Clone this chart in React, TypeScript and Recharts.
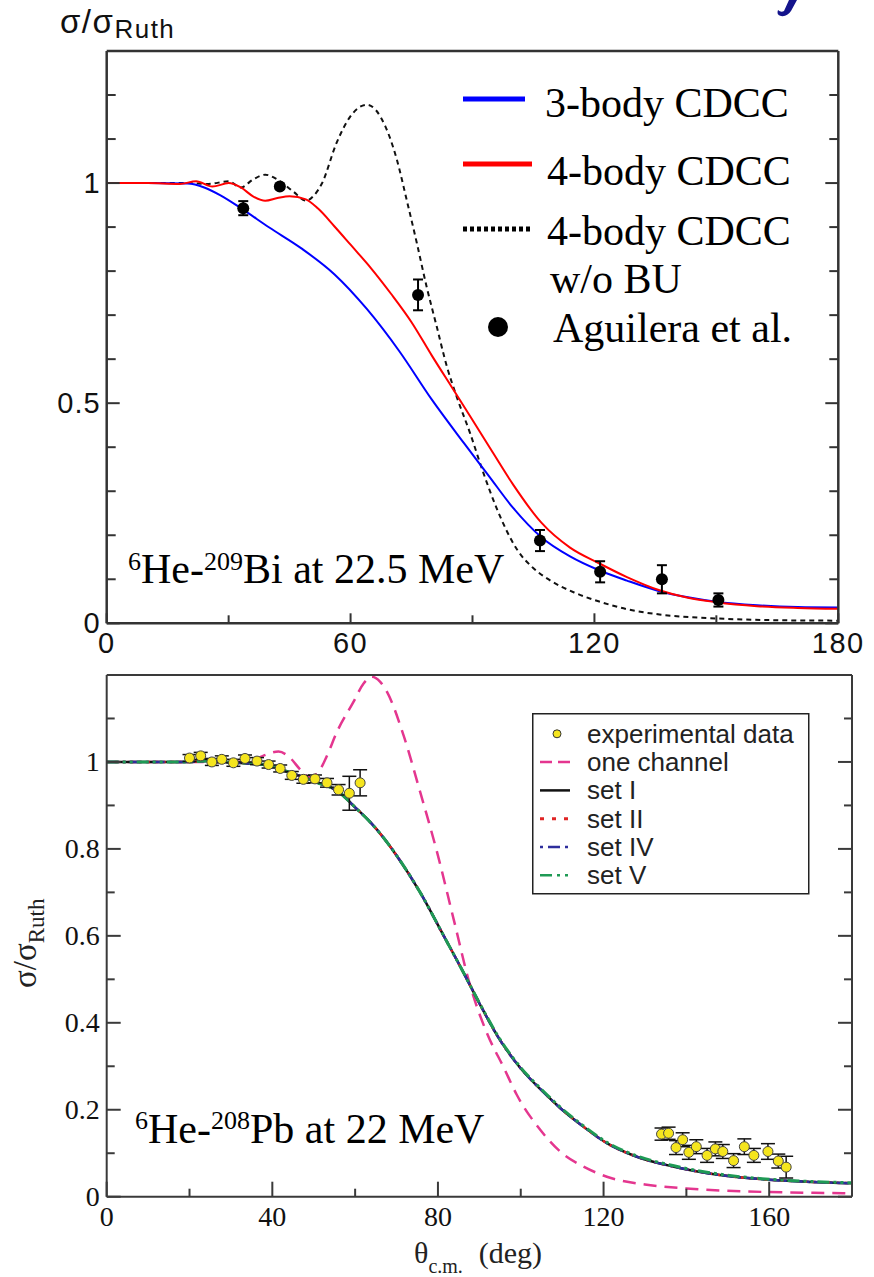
import React from 'react';
import { ComposedChart, Line, Scatter, XAxis, YAxis, ErrorBar, Legend } from 'recharts';

// ---------------- Panel 1: 6He-209Bi at 22.5 MeV ----------------
const threeBodyCDCC: [number, number][] = [
  [0, 1], [10, 1], [20, 0.999], [24, 0.99], [28, 0.972], [33, 0.943], [40, 0.899], [48, 0.851],
  [56, 0.793], [64, 0.714], [72, 0.618], [80, 0.508], [88, 0.408], [94, 0.335], [100, 0.262],
  [107, 0.195], [114, 0.152], [121, 0.121], [128, 0.097], [136, 0.073], [143, 0.059], [150, 0.049],
  [160, 0.041], [170, 0.037], [180, 0.036],
];
const fourBodyCDCC: [number, number][] = [
  [0, 1], [10, 1], [18, 0.998], [22, 1.004], [26, 0.992], [30, 1.0], [33, 0.99], [36, 0.97],
  [39, 0.96], [42, 0.966], [45, 0.97], [49, 0.963], [52, 0.942], [56, 0.902], [60, 0.86], [65, 0.807],
  [70, 0.748], [75, 0.684], [80, 0.608], [85, 0.535], [90, 0.462], [95, 0.388], [100, 0.315],
  [107, 0.228], [114, 0.172], [121, 0.137], [128, 0.105], [136, 0.075], [143, 0.058], [150, 0.048],
  [160, 0.039], [170, 0.035], [180, 0.033],
];
const fourBodyNoBU: [number, number][] = [
  [0, 1], [10, 1], [20, 1.0], [25, 0.998], [30, 1.004], [33, 0.99], [36, 1.008], [39, 1.019],
  [42, 1.008], [46, 0.98], [49, 0.96], [51, 0.972], [53, 1.0], [56.5, 1.09], [60, 1.152],
  [64, 1.178], [68.5, 1.13], [71.4, 1.053], [73.8, 0.962], [76.3, 0.864], [78.7, 0.765],
  [81.2, 0.674], [83.7, 0.583], [86.1, 0.515], [89.4, 0.432], [92.7, 0.341], [96, 0.26],
  [101, 0.167], [105, 0.125], [109, 0.098], [115, 0.07], [121, 0.05], [128, 0.032], [136, 0.02],
  [150, 0.011], [165, 0.007], [180, 0.006],
];
const aguileraTheta = [33.6, 42.6, 76.6, 106.6, 121.4, 136.6, 150.5];
const aguileraRatio = [0.943, 0.992, 0.746, 0.188, 0.117, 0.1, 0.053];
const aguileraError = [0.016, 0.005, 0.035, 0.024, 0.024, 0.032, 0.015];

const topXTicks = [0, 30, 60, 90, 120, 150, 180];
const topXMajor = [0, 60, 120, 180];
const topYTicks = [0, 0.1, 0.2, 0.3, 0.4, 0.5, 0.6, 0.7, 0.8, 0.9, 1, 1.1, 1.2];
const topYMajor = [0, 0.5, 1];

const topLegendLabels = ['3-body CDCC', '4-body CDCC', '4-body CDCC', 'w/o BU', 'Aguilera et al.'];

// ---------------- Panel 2: 6He-208Pb at 22 MeV ----------------
const oneChannel: [number, number][] = [
  [0, 1], [20, 1.0], [30, 1.0], [35, 1.003], [38, 1.015], [41.5, 1.024], [44, 1.012], [47, 0.98],
  [49, 0.965], [51, 0.975], [53, 1.01], [55.6, 1.069], [59.6, 1.138], [62, 1.18], [64, 1.196],
  [66, 1.185], [67.7, 1.161], [71.7, 1.061], [75.7, 0.931], [79.8, 0.792], [83.8, 0.638],
  [87.8, 0.485], [91.8, 0.377], [96, 0.295], [99, 0.235], [104.7, 0.154], [110, 0.1], [115, 0.07],
  [120.8, 0.046], [130, 0.028], [140, 0.019], [155, 0.012], [180, 0.008],
];
const setI: [number, number][] = [
  [0, 1], [10, 1], [20, 1.0], [25, 1.003], [30, 0.999], [35, 0.996], [39.5, 0.992], [43, 0.98],
  [47.5, 0.965], [51, 0.952], [55.6, 0.934], [60.4, 0.892], [63.6, 0.862], [67, 0.824], [70, 0.785],
  [75.7, 0.7], [81.4, 0.6], [86.2, 0.515], [90, 0.445], [95, 0.36], [100, 0.295], [105, 0.245],
  [110, 0.2], [115, 0.162], [121, 0.122], [128, 0.092], [137, 0.069], [148, 0.05], [160, 0.039],
  [170, 0.034], [180, 0.031],
];
const setII: [number, number][] = setI.map(([t, s]) => [t, s]);
const setIV: [number, number][] = setI.map(([t, s]) => [t, s]);
const setV: [number, number][] = [
  [0, 1], [10, 1], [20, 1.0], [25, 1.003], [30, 0.999], [35, 0.996], [39.5, 0.992], [43, 0.98],
  [47.5, 0.965], [51, 0.952], [55.6, 0.934], [60.4, 0.892], [63.6, 0.862], [67, 0.824], [70, 0.785],
  [75.7, 0.7], [81.4, 0.6], [86.2, 0.515], [90, 0.446], [95, 0.362], [100, 0.297], [105, 0.247],
  [110, 0.202], [115, 0.164], [121, 0.124], [128, 0.094], [137, 0.071], [148, 0.052], [160, 0.04],
  [170, 0.035], [180, 0.032],
];
const expTheta = [
  20, 22.7, 25.4, 27.8, 30.6, 33.4, 36.3, 39.1, 41.9, 44.7, 47.5, 50.3, 53.2, 56, 58.6, 61.2,
  134, 135.7, 137.5, 139.1, 140.6, 142.4, 145, 147, 148.8, 151.4, 154, 156.3, 159.7, 162.2, 164.1,
];
const expRatio = [
  1.009, 1.014, 1.0, 1.006, 0.998, 1.008, 1.002, 0.994, 0.985, 0.969, 0.96, 0.961, 0.952, 0.936, 0.928, 0.952,
  0.144, 0.146, 0.113, 0.131, 0.102, 0.115, 0.095, 0.11, 0.104, 0.083, 0.115, 0.095, 0.104, 0.082, 0.068,
];
const expError = [
  0.008, 0.008, 0.008, 0.008, 0.008, 0.008, 0.008, 0.008, 0.008, 0.009, 0.009, 0.009, 0.01, 0.012, 0.039, 0.03,
  0.014, 0.014, 0.016, 0.016, 0.016, 0.016, 0.016, 0.016, 0.016, 0.016, 0.018, 0.016, 0.018, 0.016, 0.025,
];

const botXTicks = [0, 20, 40, 60, 80, 100, 120, 140, 160];
const botXMajor = [0, 40, 80, 120, 160];
const botYTicks = [0, 0.1, 0.2, 0.3, 0.4, 0.5, 0.6, 0.7, 0.8, 0.9, 1, 1.1];
const botYMajor = [0, 0.2, 0.4, 0.6, 0.8, 1];

const botLegendLabels = ['experimental data', 'one channel', 'set I', 'set II', 'set IV', 'set V'];

// ---------------- helpers ----------------
const toPts = (arr: [number, number][]) => arr.map(([x, y]) => ({ x, y }));
const toErrPts = (xs: number[], ys: number[], es: number[]) => xs.map((x, i) => ({ x, y: ys[i], err: es[i] }));
const near = (list: number[], v: number) => list.some((m) => Math.abs(m - v) < 1e-9);

type Side = 'bottom' | 'top' | 'left' | 'right';
interface TickCfg {
  side: Side;
  major: number[];
  majorLen: number;
  minorLen: number;
  stroke: string;
  strokeWidth: number;
  label?: boolean;
  font?: string;
  fontSize?: number;
  dx?: number;
  dy?: number;
  letterSpacing?: number;
}
const makeTick = (c: TickCfg) => (props: any) => {
  const { x, y, payload } = props;
  const v = Number(payload.value);
  const isMajor = near(c.major, v);
  const len = isMajor ? c.majorLen : c.minorLen;
  let x2 = x;
  let y2 = y;
  if (c.side === 'bottom') y2 = y - len;
  else if (c.side === 'top') y2 = y + len;
  else if (c.side === 'left') x2 = x + len;
  else x2 = x - len;
  const showLabel = c.label && isMajor;
  return (
    <g>
      <line x1={x} y1={y} x2={x2} y2={y2} stroke={c.stroke} strokeWidth={c.strokeWidth} />
      {showLabel && (
        <text
          x={x + (c.dx || 0)}
          y={y + (c.dy || 0)}
          textAnchor={c.side === 'left' ? 'end' : 'middle'}
          fontFamily={c.font}
          fontSize={c.fontSize}
          letterSpacing={c.letterSpacing || 0}
          fill="#111"
        >
          {String(v)}
        </text>
      )}
    </g>
  );
};

const TOP_FRAME = '#333';
const BOT_FRAME = '#3a3a3a';
const SANS = 'Liberation Sans, Arial, sans-serif';
const SERIF = 'Liberation Serif, Times New Roman, serif';

const TopLegend = () => (
  <svg width={410} height={290} style={{ display: 'block', overflow: 'visible' }}>
    <line x1={8} y1={29} x2={70} y2={29} stroke="#0000ff" strokeWidth={5} />
    <line x1={8} y1={94} x2={77} y2={94} stroke="#ff0000" strokeWidth={5} />
    <line x1={8} y1={159} x2={77} y2={159} stroke="#000" strokeWidth={5} strokeDasharray="4 3" />
    <circle cx={43} cy={257} r={10} fill="#000" />
    <g fontFamily={SERIF} fontSize={42} fill="#000">
      <text x={90} y={47}>{topLegendLabels[0]}</text>
      <text x={92} y={115}>{topLegendLabels[1]}</text>
      <text x={92} y={175}>{topLegendLabels[2]}</text>
      <text x={95} y={223}>{topLegendLabels[3]}</text>
      <text x={98} y={272}>{topLegendLabels[4]}</text>
    </g>
  </svg>
);

const BotLegend = () => {
  const rows = botLegendLabels.map((_, i) => 20.8 + i * 28.3);
  return (
    <svg width={278} height={182} style={{ display: 'block' }}>
      <rect x={0.75} y={0.75} width={276} height={180} fill="#fff" stroke="#222" strokeWidth={1.5} />
      <circle cx={25} cy={rows[0]} r={4} fill="#f5e51e" stroke="#333" strokeWidth={1} />
      <line x1={8} y1={rows[1]} x2={38} y2={rows[1]} stroke="#e4368f" strokeWidth={2.5} strokeDasharray="12 6" />
      <line x1={8} y1={rows[2]} x2={38} y2={rows[2]} stroke="#111" strokeWidth={2.5} />
      <line x1={8} y1={rows[3]} x2={38} y2={rows[3]} stroke="#e02424" strokeWidth={3} strokeDasharray="4 8" />
      <line x1={8} y1={rows[4]} x2={38} y2={rows[4]} stroke="#2e2e9c" strokeWidth={2.5} strokeDasharray="3 5 12 5 3 10" />
      <line x1={8} y1={rows[5]} x2={38} y2={rows[5]} stroke="#1f9a55" strokeWidth={2.5} strokeDasharray="12 5 3 5 3 10" />
      <g fontFamily={SANS} fontSize={26} fill="#222">
        {botLegendLabels.map((l, i) => (
          <text key={l} x={55} y={rows[i] + 9}>{l}</text>
        ))}
      </g>
    </svg>
  );
};

const topData = {
  three: toPts(threeBodyCDCC),
  four: toPts(fourBodyCDCC),
  noBU: toPts(fourBodyNoBU),
  exp: toErrPts(aguileraTheta, aguileraRatio, aguileraError),
};
const botData = {
  one: toPts(oneChannel),
  s1: toPts(setI),
  s2: toPts(setII),
  s4: toPts(setIV),
  s5: toPts(setV),
  exp: toErrPts(expTheta, expRatio, expError),
};

// axes are given a 1px box (a 0px axis is not drawn); margins are reduced by 1px to compensate
export default function App() {
  const topAxisLine = { stroke: TOP_FRAME, strokeWidth: 2.5 };
  const botAxisLine = { stroke: BOT_FRAME, strokeWidth: 2 };
  const common = { tickLine: false as const, tickSize: 0, tickMargin: 0, interval: 0 as const, allowDataOverflow: true };
  return (
    <div style={{ position: 'absolute', left: 0, top: 0, width: 874, height: 1277, background: '#fff' }}>
      <div style={{ position: 'absolute', left: 0, top: 0 }}>
        <ComposedChart width={874} height={660} margin={{ top: 50, right: 34.7, bottom: 35.7, left: 105.7 }}>
          <XAxis
            {...common} type="number" dataKey="x" domain={[0, 180]} ticks={topXTicks} height={1} axisLine={topAxisLine}
            tick={makeTick({ side: 'bottom', major: topXMajor, majorLen: 10, minorLen: 8, stroke: TOP_FRAME, strokeWidth: 2, label: true, font: SANS, fontSize: 29, dy: 30, letterSpacing: 1.5 })}
          />
          <XAxis
            {...common} xAxisId="top" orientation="top" type="number" domain={[0, 180]} ticks={topXTicks} height={1} axisLine={topAxisLine}
            tick={makeTick({ side: 'top', major: topXMajor, majorLen: 10, minorLen: 8, stroke: TOP_FRAME, strokeWidth: 2 })}
          />
          <YAxis
            {...common} type="number" domain={[0, 1.3]} ticks={topYTicks} width={1} axisLine={topAxisLine}
            tick={makeTick({ side: 'left', major: topYMajor, majorLen: 13, minorLen: 9, stroke: TOP_FRAME, strokeWidth: 2, label: true, font: SANS, fontSize: 29, dx: -6, dy: 10, letterSpacing: 1 })}
          />
          <YAxis
            {...common} yAxisId="right" orientation="right" type="number" domain={[0, 1.3]} ticks={topYTicks} width={1} axisLine={topAxisLine}
            tick={makeTick({ side: 'right', major: topYMajor, majorLen: 13, minorLen: 9, stroke: TOP_FRAME, strokeWidth: 2 })}
          />
          <Line data={topData.noBU} dataKey="y" type="monotone" stroke="#111" strokeWidth={2} strokeDasharray="5 4" dot={false} isAnimationActive={false} />
          <Line data={topData.three} dataKey="y" type="monotone" stroke="#0000ff" strokeWidth={2} dot={false} isAnimationActive={false} />
          <Line data={topData.four} dataKey="y" type="monotone" stroke="#ff0000" strokeWidth={2} dot={false} isAnimationActive={false} />
          <Scatter
            data={topData.exp} dataKey="y" isAnimationActive={false}
            shape={(p: any) => <circle cx={p.cx} cy={p.cy} r={6} fill="#000" />}
          >
            <ErrorBar dataKey="err" direction="y" width={5} stroke="#000" strokeWidth={2} />
          </Scatter>
          <Legend
            layout="vertical" align="center" verticalAlign="middle"
            wrapperStyle={{ left: 455, top: 70, width: 410, height: 290 }}
            content={() => <TopLegend />}
          />
        </ComposedChart>
      </div>

      <div style={{ position: 'absolute', left: 0, top: 660 }}>
        <ComposedChart width={874} height={617} margin={{ top: 14, right: 21, bottom: 79.3, left: 105.7 }}>
          <XAxis
            {...common} type="number" dataKey="x" domain={[0, 180]} ticks={botXTicks} height={1} axisLine={botAxisLine}
            tick={makeTick({ side: 'bottom', major: botXMajor, majorLen: 15, minorLen: 8, stroke: BOT_FRAME, strokeWidth: 2, label: true, font: SERIF, fontSize: 28, dy: 29 })}
          />
          <XAxis
            {...common} xAxisId="top" orientation="top" type="number" domain={[0, 180]} ticks={botXTicks} height={1} axisLine={botAxisLine}
            tick={makeTick({ side: 'top', major: botXMajor, majorLen: 15, minorLen: 8, stroke: BOT_FRAME, strokeWidth: 2 })}
          />
          <YAxis
            {...common} type="number" domain={[0, 1.2]} ticks={botYTicks} width={1} axisLine={botAxisLine}
            tick={makeTick({ side: 'left', major: botYMajor, majorLen: 14, minorLen: 8, stroke: BOT_FRAME, strokeWidth: 2, label: true, font: SERIF, fontSize: 28, dx: -7, dy: 9 })}
          />
          <YAxis
            {...common} yAxisId="right" orientation="right" type="number" domain={[0, 1.2]} ticks={botYTicks} width={1} axisLine={botAxisLine}
            tick={makeTick({ side: 'right', major: botYMajor, majorLen: 14, minorLen: 8, stroke: BOT_FRAME, strokeWidth: 2 })}
          />
          <Line data={botData.one} dataKey="y" type="monotone" stroke="#e4368f" strokeWidth={2.5} strokeDasharray="13 8" dot={false} isAnimationActive={false} />
          <Line data={botData.s1} dataKey="y" type="monotone" stroke="#111" strokeWidth={2.5} dot={false} isAnimationActive={false} />
          <Line data={botData.s2} dataKey="y" type="monotone" stroke="#e02424" strokeWidth={2.5} strokeDasharray="3 5" dot={false} isAnimationActive={false} />
          <Line data={botData.s4} dataKey="y" type="monotone" stroke="#2e2e9c" strokeWidth={2.5} strokeDasharray="12 4 3 4" dot={false} isAnimationActive={false} />
          <Line data={botData.s5} dataKey="y" type="monotone" stroke="#1f9a55" strokeWidth={3} strokeDasharray="12 4 3 4 3 4" dot={false} isAnimationActive={false} />
          <Scatter
            data={botData.exp} dataKey="y" isAnimationActive={false}
            shape={(p: any) => <circle cx={p.cx} cy={p.cy} r={5} fill="#f5e51e" stroke="#444" strokeWidth={1} />}
          >
            <ErrorBar dataKey="err" direction="y" width={7} stroke="#111" strokeWidth={1.5} />
          </Scatter>
          <Legend
            layout="vertical" align="center" verticalAlign="middle"
            wrapperStyle={{ left: 531.7, top: 52.7, width: 278, height: 182 }}
            content={() => <BotLegend />}
          />
        </ComposedChart>
      </div>

      <svg
        width={874} height={1277}
        style={{ position: 'absolute', left: 0, top: 0, pointerEvents: 'none', overflow: 'hidden' }}
      >
        <text x={60} y={33} fontFamily={SANS} fontSize={33} letterSpacing={1.5} fill="#111">
          σ/σ<tspan fontSize={26} dy={5}>Ruth</tspan>
        </text>
        <path d="M 797 0 L 791 11 Q 787 17 781 16 Q 776 15 778 10 Q 781 13 784 11 L 789 0 Z" fill="#14148c" />
        <text x={128} y={583} fontFamily={SERIF} fontSize={42} fill="#000">
          <tspan fontSize={26} dy={-13}>6</tspan>
          <tspan dy={13}>He-</tspan>
          <tspan fontSize={26} dy={-13}>209</tspan>
          <tspan dy={13}>Bi at 22.5 MeV</tspan>
        </text>
        <text x={135} y={1143} fontFamily={SERIF} fontSize={42} fill="#000">
          <tspan fontSize={26} dy={-14}>6</tspan>
          <tspan dy={14}>He-</tspan>
          <tspan fontSize={26} dy={-14}>208</tspan>
          <tspan dy={14}>Pb at 22 MeV</tspan>
        </text>
        <text transform="translate(36, 988) rotate(-90)" fontFamily={SERIF} fontSize={33} fill="#222">
          σ/σ<tspan fontSize={23} dy={8}>Ruth</tspan>
        </text>
        <text x={414} y={1263} fontFamily={SERIF} fontSize={30} fill="#222">
          θ<tspan fontSize={20} dy={10}>c.m.</tspan>
          <tspan dy={-10} dx={16}>(deg)</tspan>
        </text>
      </svg>
    </div>
  );
}
